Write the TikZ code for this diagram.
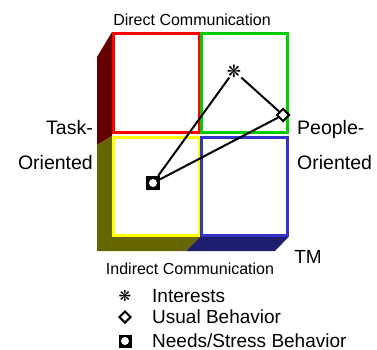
\documentclass[tikz,border=0pt]{standalone}
\usepackage{fontspec}
\setmainfont{Liberation Sans}
\newfontfamily\symfont{DejaVu Sans}
\usepackage{tikz}
\usetikzlibrary{shapes,positioning}
\definecolor{qred}{RGB}{255, 0, 0}
\definecolor{qgreen}{RGB}{0, 204, 0}
\definecolor{qyellow}{RGB}{255, 255, 0}
\definecolor{qblue}{RGB}{51, 51, 204}
\definecolor{sidered}{RGB}{102, 0, 0}
\definecolor{sideolive}{RGB}{102, 102, 0}
\definecolor{sidenavy}{RGB}{30, 30, 110}
\tikzstyle{quad} = [rectangle, line width=3pt, fill=white, minimum width=86pt, minimum height=98pt, inner sep=0pt]
\tikzstyle{textonly} = [draw=none, fill=none, inner sep=0pt, font=\fontsize{16}{18}\selectfont]
\tikzstyle{bigtext} = [textonly, font=\fontsize{19}{21}\selectfont]
\tikzstyle{usual} = [diamond, draw=black, line width=2pt, fill=white, minimum size=13pt, inner sep=0pt]
\tikzstyle{needs} = [rectangle, fill=black, minimum size=14pt, inner sep=0pt, path picture={\fill[white] (path picture bounding box.center) circle (4pt);}]
\tikzstyle{interest} = [inner sep=0pt, font=\symfont\fontsize{17}{17}\selectfont]
\tikzstyle{tedge}  = [draw, line width=2pt]

\begin{document}
\begin{tikzpicture}[x=1pt, y=-1pt]
\useasboundingbox (0,0) rectangle (377,350);

% box sides =============================
\fill[sidered] (112,32) -- (97,57) -- (97,145) -- (112,136) -- cycle;
\fill[sideolive] (97,145) -- (112,136) -- (112,236.5) -- (201,236.5) -- (186,251) -- (97,251) -- cycle;
\fill[sidenavy] (201,236.5) -- (289,236.5) -- (275,251) -- (186,251) -- cycle;

% quadrants
\node[quad, draw=qred] (dirtask) at (156.5,83) {};
\node[quad, draw=qgreen] (dirpeople) at (244.5,83) {};
\node[quad, draw=qyellow] (indtask) at (156.5,186.5) {};
\node[quad, draw=qblue] (indpeople) at (244.5,186.5) {};

% axis labels
\node[textonly] (direct) at (192,20) {Direct Communication};
\node[textonly] (indirect) at (190,269) {Indirect Communication};
\node[bigtext] (tm) at (308,257) {TM};
\node[bigtext, font=\fontsize{19.5}{21}\selectfont, anchor=base east] (task) at (93,135) {Task-};
\node[bigtext, font=\fontsize{19.5}{21}\selectfont, anchor=base east] (taskor) at (93,169) {Oriented};
\node[bigtext, font=\fontsize{19.5}{21}\selectfont, anchor=base west] (people) at (297,135) {People-};
\node[bigtext, font=\fontsize{19.5}{21}\selectfont, anchor=base west] (peopleor) at (297,169) {Oriented};

% profile points
\node[interest] (intpt) at (234,71) {❋};
\node[usual] (usualpt) at (283,115) {};
\node[needs] (needspt) at (153,183) {};

%edges
\path[tedge] (needspt) -- (intpt);
\path[tedge] (intpt) -- (usualpt);
\path[tedge] (usualpt) -- (needspt);

% legend
\node[interest, font=\symfont\fontsize{15}{15}\selectfont] (legint) at (125,296) {❋};
\node[usual, minimum size=12pt] (legusual) at (125,317) {};
\node[needs, minimum size=13pt] (legneeds) at (125,341) {};
\node[bigtext, anchor=base west] (leginttext) at (152,302) {Interests};
\node[bigtext, anchor=base west] (legusualtext) at (152,323) {Usual Behavior};
\node[bigtext, anchor=base west] (legneedstext) at (152,347) {Needs/Stress Behavior};

\end{tikzpicture}
\end{document}
